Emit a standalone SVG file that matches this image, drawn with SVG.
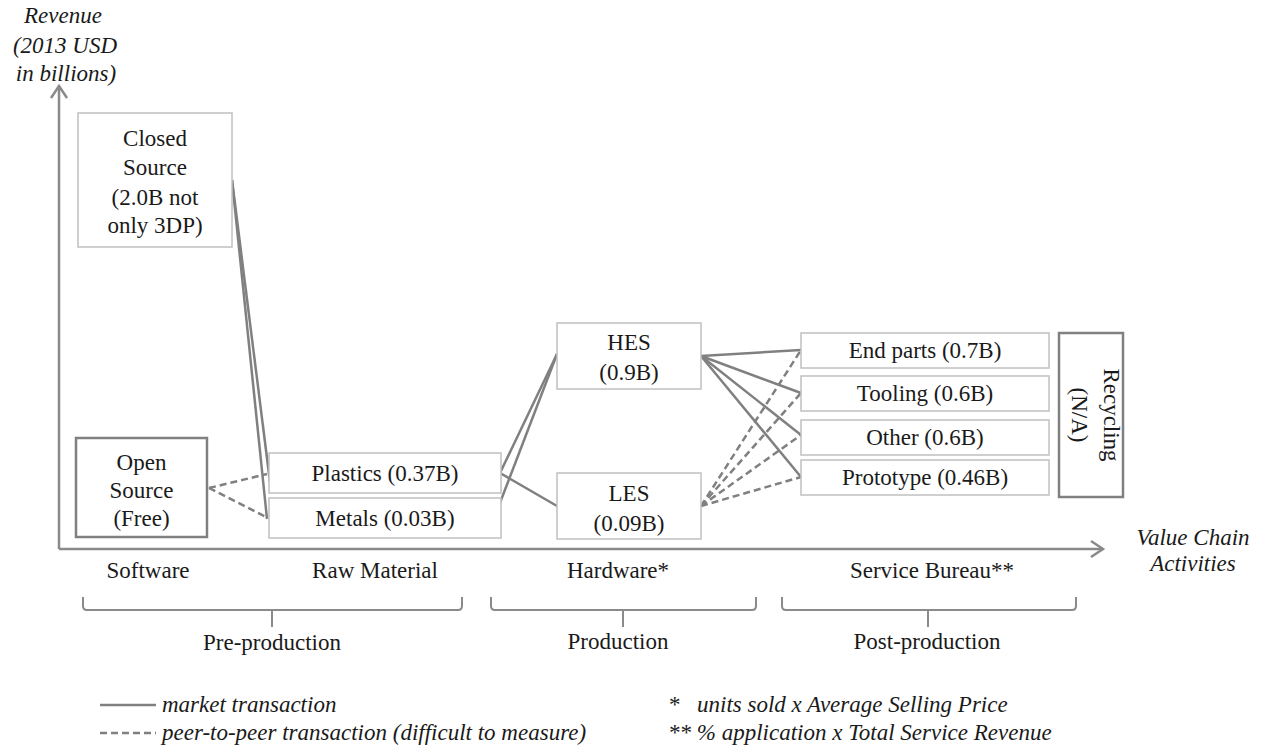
<svg xmlns="http://www.w3.org/2000/svg" width="1271" height="749" viewBox="0 0 1271 749" font-family="Liberation Serif, DejaVu Serif, serif" font-size="23">
<style>
text{fill:#1a1a1a}
.c{text-anchor:middle}
.it{font-style:italic}
.box{fill:#fff;stroke:#c0c0c0;stroke-width:1.5}
.boxd{fill:#fff;stroke:#808080;stroke-width:2.5}
.ln{stroke:#808080;stroke-width:2.5;fill:none}
.ds{stroke:#808080;stroke-width:2.5;fill:none;stroke-dasharray:7 4}
.ax{stroke:#8a8a8a;stroke-width:2.5;fill:none}
.br{stroke:#8a8a8a;stroke-width:2;fill:none}
</style>
<g id="axes">
<path class="ax" d="M59,549 L59,86"/>
<path class="ax" d="M51,98 L59,86 L67,98"/>
<path class="ax" d="M59,549 L1103,549"/>
<path class="ax" d="M1091,541 L1103,549 L1091,557"/>
<text class="c it" x="63" y="23">Revenue</text>
<text class="c it" x="65" y="53">(2013 USD</text>
<text class="c it" x="66" y="81">in billions)</text>
<text class="c it" x="1193" y="545">Value Chain</text>
<text class="c it" x="1193" y="571">Activities</text>
</g>
<g id="connectors">
<path class="ln" d="M232,180 L270,482"/>
<path class="ln" d="M232,180 L267,519"/>
<path class="ds" d="M209,488 L267,474"/>
<path class="ds" d="M209,488 L268,518"/>
<path class="ln" d="M500,473 L557,354"/>
<path class="ln" d="M498,508 L557,354"/>
<path class="ln" d="M500,473 L557,506"/>
<path class="ln" d="M701,356 L801,350"/>
<path class="ln" d="M701,356 L801,393"/>
<path class="ln" d="M701,356 L801,435"/>
<path class="ln" d="M701,356 L801,477"/>
<path class="ds" d="M701,506 L801,350"/>
<path class="ds" d="M701,506 L801,393"/>
<path class="ds" d="M701,506 L801,435"/>
<path class="ds" d="M701,506 L801,477"/>
</g>
<g id="closed-source">
<rect class="box" x="78" y="113" width="154" height="134"/>
<text class="c" x="155" y="146">Closed</text>
<text class="c" x="155" y="175">Source</text>
<text class="c" x="155" y="205">(2.0B not</text>
<text class="c" x="155" y="233">only 3DP)</text>
</g>
<g id="open-source">
<rect class="boxd" x="76" y="438" width="131" height="99"/>
<text class="c" x="141.5" y="470">Open</text>
<text class="c" x="141.5" y="498">Source</text>
<text class="c" x="141.5" y="526">(Free)</text>
</g>
<g id="plastics">
<rect class="box" x="269" y="453" width="232" height="40"/>
<text class="c" x="385" y="481">Plastics (0.37B)</text>
</g>
<g id="metals">
<rect class="box" x="269" y="498" width="232" height="40"/>
<text class="c" x="385" y="526">Metals (0.03B)</text>
</g>
<g id="hes">
<rect class="box" x="557" y="323" width="144" height="66"/>
<text class="c" x="629" y="350">HES</text>
<text class="c" x="629" y="380">(0.9B)</text>
</g>
<g id="les">
<rect class="box" x="557" y="473" width="144" height="66"/>
<text class="c" x="629" y="501">LES</text>
<text class="c" x="629" y="531">(0.09B)</text>
</g>
<g id="end-parts">
<rect class="box" x="801" y="333" width="248" height="35"/>
<text class="c" x="925" y="358">End parts (0.7B)</text>
</g>
<g id="tooling">
<rect class="box" x="801" y="376" width="248" height="35"/>
<text class="c" x="925" y="401">Tooling (0.6B)</text>
</g>
<g id="other">
<rect class="box" x="801" y="420" width="248" height="35"/>
<text class="c" x="925" y="445">Other (0.6B)</text>
</g>
<g id="prototype">
<rect class="box" x="801" y="460" width="248" height="35"/>
<text class="c" x="925" y="485">Prototype (0.46B)</text>
</g>
<g id="recycling">
<rect class="boxd" x="1059" y="333" width="64" height="164"/>
<text class="c" transform="translate(1104,415) rotate(90)">Recycling</text>
<text class="c" transform="translate(1072,415) rotate(90)">(N/A)</text>
</g>
<g id="categories">
<text class="c" x="148" y="578">Software</text>
<text class="c" x="375" y="578">Raw Material</text>
<text class="c" x="618" y="578">Hardware*</text>
<text class="c" x="932" y="578">Service Bureau**</text>
<path class="br" d="M83,597 L83,606 Q83,610 87,610 L458,610 Q462,610 462,606 L462,597 M272,610 L272,627"/>
<path class="br" d="M491,597 L491,606 Q491,610 495,610 L752,610 Q756,610 756,606 L756,597 M623,610 L623,627"/>
<path class="br" d="M782,597 L782,606 Q782,610 786,610 L1072,610 Q1076,610 1076,606 L1076,597 M928,610 L928,627"/>
<text class="c" x="272" y="650">Pre-production</text>
<text class="c" x="618" y="649">Production</text>
<text class="c" x="927" y="649">Post-production</text>
</g>
<g id="legend">
<path class="ln" d="M100,705 L156,705"/>
<path class="ds" d="M100,733 L156,733"/>
<text class="it" x="162" y="712">market transaction</text>
<text class="it" x="162" y="740">peer-to-peer transaction (difficult to measure)</text>
<text x="669" y="712">*</text>
<text class="it" x="697" y="712">units sold x Average Selling Price</text>
<text class="it" x="668" y="740">** % application x Total Service Revenue</text>
</g>
</svg>
